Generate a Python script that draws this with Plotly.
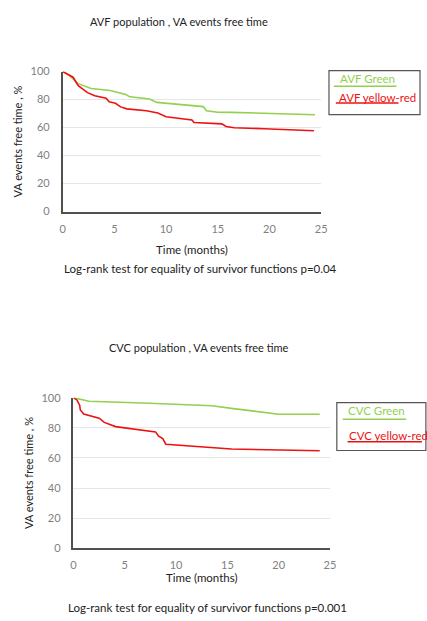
import plotly.graph_objects as go

# AVF population
avf_green_t = [0, 0.54, 1.5, 2.75, 4.6, 5.3, 6.1, 6.5, 8.4, 9.1, 10, 11.9, 13.6, 13.9, 15, 16.3, 19.5, 24.4]
avf_green_v = [100, 97.9, 91.4, 87.9, 86.5, 85, 83.7, 82, 80.4, 78, 77.4, 76.2, 75, 72, 71, 70.9, 70.2, 69.2]
avf_red_t = [0, 1.0, 1.5, 2.0, 2.4, 3.1, 4.2, 4.5, 5.1, 5.6, 6.2, 8.1, 9.2, 10, 11.6, 12.5, 12.7, 15.4, 15.8, 16.6, 19.5, 24.3]
avf_red_v = [100, 96, 90, 87, 85, 82.8, 81, 78.5, 77.4, 74.8, 73.4, 72, 70.4, 67.8, 66.4, 65.5, 63.6, 62.7, 60.8, 59.9, 59.2, 57.8]

# CVC population
cvc_green_t = [0, 1.5, 7.4, 13.5, 15.4, 20, 24]
cvc_green_v = [100, 97.6, 96.3, 94.6, 92.9, 89, 89]
cvc_red_t = [0, 0.35, 0.6, 0.67, 1.0, 2.5, 3.0, 4.1, 8.0, 8.3, 8.7, 9.0, 15.4, 24]
cvc_red_v = [100, 98.3, 95, 91.8, 89.2, 86.4, 83.6, 80.8, 77.3, 74.5, 72.8, 69.1, 65.9, 64.8]

x_ticks = [0, 5, 10, 15, 20, 25]
y_ticks = [0, 20, 40, 60, 80, 100]

GREEN = "#92d050"
RED = "#ee1111"
FONT = "Lato"

fig = go.Figure()
fig.add_trace(go.Scatter(x=avf_green_t, y=avf_green_v, mode="lines", line=dict(color=GREEN, width=1.6), xaxis="x", yaxis="y", showlegend=False))
fig.add_trace(go.Scatter(x=avf_red_t, y=avf_red_v, mode="lines", line=dict(color=RED, width=1.6), xaxis="x", yaxis="y", showlegend=False))
fig.add_trace(go.Scatter(x=cvc_green_t, y=cvc_green_v, mode="lines", line=dict(color=GREEN, width=1.6), xaxis="x2", yaxis="y2", showlegend=False))
fig.add_trace(go.Scatter(x=cvc_red_t, y=cvc_red_v, mode="lines", line=dict(color=RED, width=1.6), xaxis="x2", yaxis="y2", showlegend=False))

W, H = 427, 621
def px(x): return x / W
def py(y): return 1 - y / H

xcommon = dict(range=[0, 25], tickvals=x_ticks, showgrid=False, zeroline=False,
               showline=True, linecolor="#505050", linewidth=1.5, ticklabelstandoff=6,
               tickfont=dict(family=FONT, size=11, color="#808080"), ticks="")
ycommon = dict(range=[0, 100], tickvals=y_ticks, showgrid=True, gridcolor="#e6e6e6", gridwidth=1,
               zeroline=False, showline=True, linecolor="#505050", linewidth=1.5, ticklabelstandoff=9,
               tickfont=dict(family=FONT, size=11, color="#808080"), ticks="",
               title=dict(text="VA events free time , %", standoff=6, font=dict(family=FONT, size=11, color="#222")))

fig.update_layout(
    width=W, height=H, margin=dict(l=0, r=0, t=0, b=0),
    paper_bgcolor="white", plot_bgcolor="white",
    xaxis=dict(xcommon, domain=[px(61), px(325)], anchor="y",
               title=dict(text="Time (months)", standoff=12, font=dict(family=FONT, size=11.5, color="#222"))),
    yaxis=dict(ycommon, domain=[py(209), py(66)], anchor="x"),
    xaxis2=dict(xcommon, domain=[px(72), px(334)], anchor="y2",
                title=dict(text="Time (months)", standoff=4, font=dict(family=FONT, size=11.5, color="#222"))),
    yaxis2=dict(ycommon, domain=[py(553), py(399)], anchor="x2"),
)

ann = []
def text(x, y, s, color="#222", size=11, xanchor="center"):
    ann.append(dict(x=px(x), y=py(y), xref="paper", yref="paper", text=s, showarrow=False,
                    xanchor=xanchor, yanchor="middle", font=dict(family=FONT, size=size, color=color)))

text(180, 15, "AVF population , VA events free time", size=11)
text(202, 267, "Log-rank test for equality of survivor functions p=0.04", size=11.5)
text(200, 348, "CVC population , VA events free time", size=11)
text(209, 613, "Log-rank test for equality of survivor functions p=0.001", size=11.5)
text(342, 73, "AVF Green", GREEN, 11.5, "left")
text(341, 92, "AVF yellow-red", RED, 11.5, "left")
text(350, 412, "CVC Green", GREEN, 11.5, "left")
text(351, 438, "CVC yellow-red", RED, 11.5, "left")
fig.update_layout(annotations=ann)

shapes = []
def line(x0, y0, x1, y1, color, w=1.5):
    shapes.append(dict(type="line", xref="paper", yref="paper", x0=px(x0), y0=py(y0), x1=px(x1), y1=py(y1),
                       line=dict(color=color, width=w)))
def box(x0, y0, x1, y1):
    shapes.append(dict(type="rect", xref="paper", yref="paper", x0=px(x0), y0=py(y0), x1=px(x1), y1=py(y1),
                       line=dict(color="#555", width=1.2), fillcolor="rgba(0,0,0,0)"))

box(333, 65, 426, 110)
line(338, 81, 402, 81, GREEN)
line(340, 98, 404, 98, RED)
box(341, 404, 432, 453)
line(347, 421, 412, 421, GREEN)
line(352, 444, 428, 444, RED)
fig.update_layout(shapes=shapes)

fig.write_html("out.html", config={"displayModeBar": False},
               post_script="document.body.style.margin='0';document.body.style.overflow='hidden';")
